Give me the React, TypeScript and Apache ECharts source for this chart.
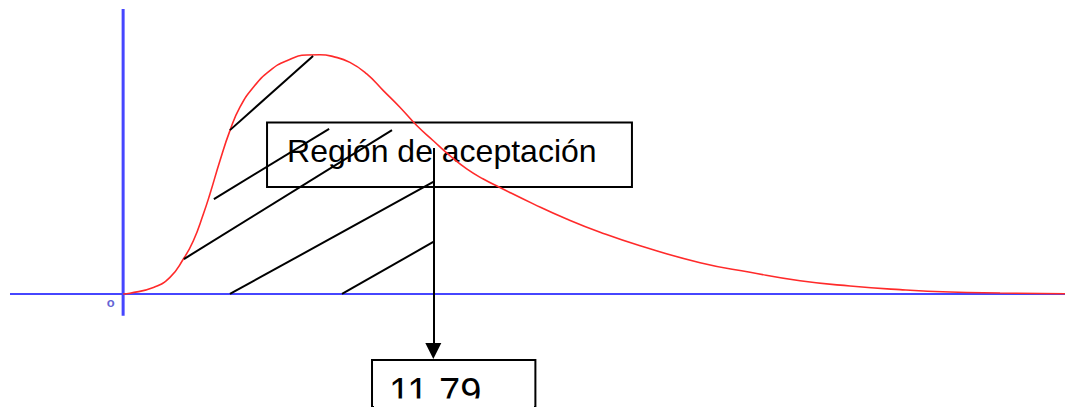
import React, { useEffect, useRef } from "react";
import * as echarts from "echarts";

// Density curve: x in chi-square units, y relative height (peak ~ 1)
const curveX = [0, 0.26, 1.15, 1.78, 2.29, 2.67, 3.05, 3.3, 3.68, 4.06, 4.44, 4.95, 5.58, 6.22, 6.98, 7.48, 7.99, 8.62, 9.26, 9.89, 10.52, 11.16, 11.79, 12.42, 13.06, 13.69, 14.32, 15.59, 16.86, 18.13, 19.65, 21.93, 23.83, 25.73, 27.63, 29.53, 31.43, 33.33, 35.8];
const curveY = [0, 0.003, 0.027, 0.069, 0.145, 0.221, 0.332, 0.415, 0.553, 0.678, 0.775, 0.858, 0.927, 0.968, 0.992, 0.993, 0.985, 0.961, 0.913, 0.844, 0.775, 0.699, 0.636, 0.574, 0.519, 0.477, 0.442, 0.374, 0.311, 0.256, 0.2, 0.13, 0.09, 0.055, 0.033, 0.018, 0.008, 0.004, 0.001];

// Hatch segments of the acceptance region: [[x1, y1], [x2, y2]]
const hatchSegments = [
  [[4.06, 0.68], [7.22, 0.988]],
  [[3.45, 0.394], [7.83, 0.685]],
  [[2.31, 0.145], [10.22, 0.68]],
  [[4.06, 0], [11.79, 0.465]],
  [[8.32, 0], [11.79, 0.216]],
];

// Axes drawn as lines
const xAxisSpan = [[-4.3, 0], [35.8, 0]];
const yAxisSpan = [[0, -0.09], [0, 1.183]];
const originLabel = "o";
const originPoint = [-0.47, -0.035];

// Annotations
const criticalValue = 11.79;
const criticalLabel = "11.79";
const regionLabel = "Región de aceptación";
const arrowYFrom = 0.606;
const arrowYTo = -0.237;
const regionBox = [[5.47, 0.712], [19.34, 0.444]];
const valueBox = [[9.46, -0.274], [15.67, -0.54]];

const FONT = "'Liberation Sans', Arial, sans-serif";

export default function App() {
  const ref = useRef<HTMLDivElement>(null);
  useEffect(() => {
    if (!ref.current) return;
    const chart = echarts.init(ref.current, null, { renderer: "svg" });
    const curve = curveX.map((x, i) => [x, curveY[i]]);
    chart.setOption({
      animation: false,
      backgroundColor: "#ffffff",
      grid: { left: 0, right: 0, top: 0, bottom: 0 },
      xAxis: { type: "value", min: -4.68, max: 35.8, show: false },
      yAxis: { type: "value", min: -0.469, max: 1.22, show: false },
      series: [
        {
          type: "line",
          name: "ejeX",
          data: xAxisSpan,
          symbol: "none",
          silent: true,
          lineStyle: { color: "#4646ff", width: 2 },
          z: 1,
        },
        {
          type: "line",
          name: "ejeY",
          data: yAxisSpan,
          symbol: "none",
          silent: true,
          lineStyle: { color: "#4646ff", width: 3 },
          z: 1,
        },
        {
          type: "line",
          name: "densidad",
          data: curve,
          symbol: "none",
          smooth: 0.5,
          lineStyle: { color: "#ff2a2a", width: 1.6 },
          z: 3,
        },
        {
          type: "lines",
          name: "rayado",
          coordinateSystem: "cartesian2d",
          data: hatchSegments.map((c) => ({ coords: c })),
          lineStyle: { color: "#000000", width: 2, opacity: 1 },
          z: 4,
        },
        {
          type: "scatter",
          name: "origen",
          data: [originPoint],
          symbolSize: 1,
          itemStyle: { color: "rgba(0,0,0,0)" },
          label: {
            show: true,
            position: "inside",
            formatter: originLabel,
            color: "#3a3ac8",
            fontWeight: "bold",
            fontSize: 13,
            fontFamily: FONT,
          },
          silent: true,
        },
        {
          type: "line",
          name: "anotaciones",
          data: [],
          symbol: "none",
          z: 5,
          markLine: {
            silent: true,
            symbol: ["none", "triangle"],
            symbolSize: [16, 16],
            lineStyle: { color: "#000000", width: 2, type: "solid" },
            label: { show: false },
            data: [
              [
                { coord: [criticalValue, arrowYFrom] },
                { coord: [criticalValue, arrowYTo] },
              ],
            ],
          },
          markArea: {
            silent: true,
            itemStyle: {
              color: "rgba(0,0,0,0)",
              borderColor: "#000000",
              borderWidth: 2,
            },
            data: [
              [
                {
                  name: regionLabel,
                  coord: regionBox[0],
                  label: {
                    show: true,
                    position: [21, 14],
                    formatter: regionLabel,
                    fontSize: 32,
                    color: "#000000",
                    fontFamily: FONT,
                  },
                },
                { coord: regionBox[1] },
              ],
              [
                {
                  name: criticalLabel,
                  coord: valueBox[0],
                  label: {
                    show: true,
                    position: [18, 14],
                    formatter: criticalLabel,
                    fontSize: 38,
                    color: "#000000",
                    fontFamily: FONT,
                  },
                },
                { coord: valueBox[1] },
              ],
            ],
          },
        },
      ],
      graphic: [
        {
          type: "rect",
          z: 100,
          silent: true,
          shape: { x: 374, y: 398.5, width: 160, height: 10 },
          style: { fill: "#ffffff" },
        },
      ],
    });
    return () => chart.dispose();
  }, []);
  return (
    <div
      ref={ref}
      style={{ position: "absolute", left: 0, top: 0, width: 1065, height: 407 }}
    />
  );
}
